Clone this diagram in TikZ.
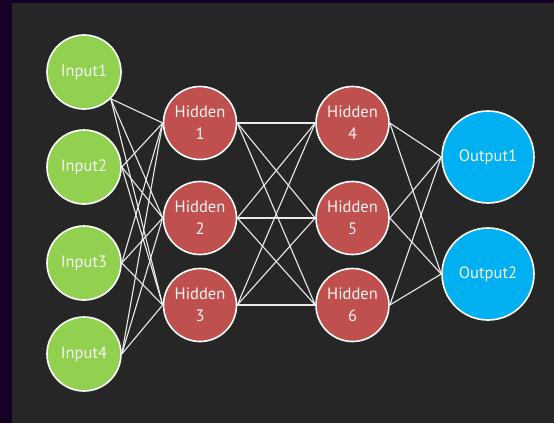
\documentclass[tikz,border=0pt]{standalone}
\usepackage{fontspec}
\setmainfont{PT Sans}
\definecolor{bgpurple}{RGB}{22,0,40}
\definecolor{panel}{RGB}{38,38,38}
\definecolor{ingreen}{RGB}{146,208,80}
\definecolor{hidred}{RGB}{192,80,77}
\definecolor{outblue}{RGB}{0,176,240}
\definecolor{txt}{RGB}{245,245,245}
\tikzset{
  neuron/.style={circle, draw=white, line width=1.6pt, inner sep=0pt, text=txt,
    font=\fontsize{16.5}{22}\selectfont, align=center},
  innode/.style={neuron, fill=ingreen, minimum size=74pt},
  hidnode/.style={neuron, fill=hidred, minimum size=73pt},
  outnode/.style={neuron, fill=outblue, minimum size=92pt},
  link/.style={draw=white!92!black, line width=1.1pt}
}
\begin{document}
\begin{tikzpicture}[x=1pt,y=-1pt]
\useasboundingbox (0,0) rectangle (554,423);
\fill[bgpurple] (0,0) rectangle (554,423);
\fill[panel] (12,3) rectangle (554,423);

\node[innode] (in1) at (84,72) {Input1};
\node[innode] (in2) at (84,167) {Input2};
\node[innode] (in3) at (84,263) {Input3};
\node[innode] (in4) at (84,354) {Input4};

\node[hidnode] (h1) at (200,123) {Hidden\\1};
\node[hidnode] (h2) at (200,218) {Hidden\\2};
\node[hidnode] (h3) at (200,305) {Hidden\\3};
\node[hidnode] (h4) at (352.5,123) {Hidden\\4};
\node[hidnode] (h5) at (352.5,218) {Hidden\\5};
\node[hidnode] (h6) at (352.5,305) {Hidden\\6};

\node[outnode] (o1) at (488,157) {Output1};
\node[outnode] (o2) at (488,274) {Output2};

\foreach \h in {h1,h2,h3}{
  \draw[link] (in1.-45) -- (\h.west);
  \foreach \i in {in2,in3,in4}{
    \draw[link] (\i.east) -- (\h.west);
  }
  \foreach \k in {h4,h5,h6}{
    \draw[link] (\h.east) -- (\k.west);
  }
}
\foreach \k in {h4,h5,h6}{
  \foreach \o in {o1,o2}{
    \draw[link] (\k.east) -- (\o.west);
  }
}
\end{tikzpicture}
\end{document}
